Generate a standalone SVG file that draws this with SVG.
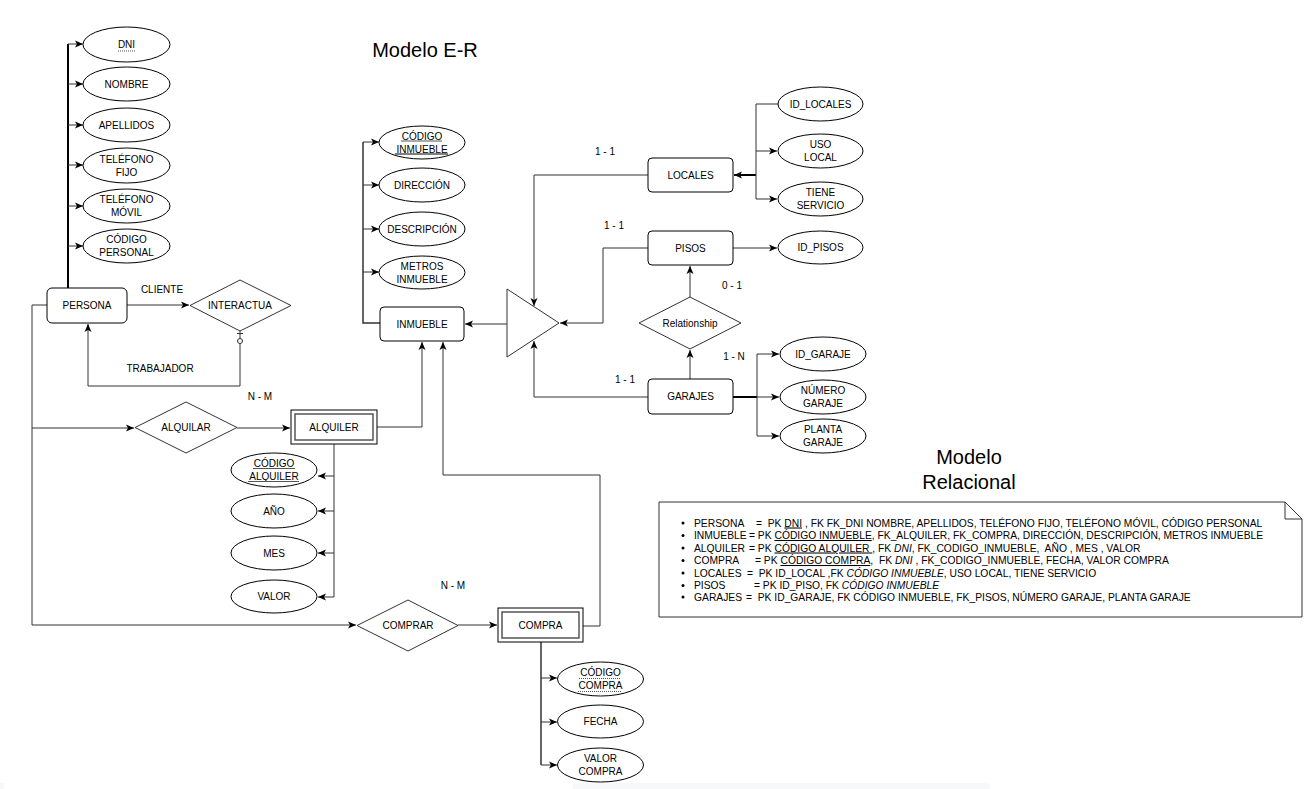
<svg xmlns="http://www.w3.org/2000/svg" width="1313" height="789" viewBox="0 0 1313 789">
<defs>
<marker id="arr" markerUnits="userSpaceOnUse" markerWidth="9" markerHeight="8" refX="8" refY="4" orient="auto">
<path d="M0,0.5 L8,4 L0,7.5 L2,4 Z" fill="#000"/>
</marker>
<style>
text{font-family:"Liberation Sans",Arial,sans-serif;font-size:10px;fill:#000;}
.c{text-anchor:middle;dominant-baseline:central;}
.t{font-size:20px;text-anchor:middle;}
.n{font-size:10.3px;}
.e{fill:#fff;stroke:#000;stroke-width:1;}
.r{fill:#fff;stroke:#000;stroke-width:1;}
.d{fill:#fff;stroke:#333;stroke-width:1;}
.l{fill:none;stroke:#333;stroke-width:1;}
.lt{fill:none;stroke:#000;stroke-width:2;}
.a{marker-end:url(#arr);}
.u{stroke:#555;stroke-width:1;}
.ud{stroke:#555;stroke-width:1;stroke-dasharray:1 1;}
</style>
</defs>
<rect width="1313" height="789" fill="#fff"/>
<rect x="573" y="783" width="417" height="6" fill="#f7f8f9"/>
<rect x="0" y="783" width="4" height="6" fill="#f7f8f9"/>

<text class="t" x="425" y="57">Modelo E-R</text>
<text class="t" x="969" y="464">Modelo</text>
<text class="t" x="969" y="489">Relacional</text>

<g id="connectors">
<path class="lt" d="M68,288 V44"/>
<path class="l a" d="M68,44 H83"/>
<path class="l a" d="M68,84 H83"/>
<path class="l a" d="M68,125 H83"/>
<path class="l a" d="M68,165 H83"/>
<path class="l a" d="M68,206 H83"/>
<path class="l a" d="M68,246 H83"/>
<path class="l a" d="M127,305 H189"/>
<path class="l a" d="M240,331 V386 H88 V324"/>
<path class="l" d="M237,333.5 H243"/>
<circle cx="240" cy="341" r="2.5" fill="#fff" stroke="#333"/>
<path class="l" d="M47,305 H32 V625"/>
<path class="l a" d="M32,428 H134"/>
<path class="l a" d="M237,428 H290"/>
<path class="l a" d="M32,625 H356"/>
<path class="l a" d="M458,625 H497"/>
<path class="l a" d="M377,427 H422 V342"/>
<path class="l a" d="M583,626 H600 V475 H443 V342"/>
<path class="l" d="M334,444 V597"/>
<path class="l a" d="M334,476 H318"/>
<path class="l a" d="M334,511 H318"/>
<path class="l a" d="M334,553 H318"/>
<path class="l a" d="M334,597 H318"/>
<path class="l" d="M541,642 V765" style="stroke-width:1.5"/>
<path class="l a" d="M541,678 H557"/>
<path class="l a" d="M541,722 H557"/>
<path class="l a" d="M541,765 H557"/>
<path class="l" d="M380,323 H363 V142" style="stroke-width:1.5"/>
<path class="l a" d="M363,142 H379"/>
<path class="l a" d="M363,185 H379"/>
<path class="l a" d="M363,229 H379"/>
<path class="l a" d="M363,272 H379"/>
<path class="l a" d="M507,324 H465"/>
<path class="l a" d="M648,175 H534 V306"/>
<path class="lt a" d="M756,175 H734"/>
<path class="l" d="M778,104 H756 V199"/>
<path class="l a" d="M756,151 H777"/>
<path class="l a" d="M756,199 H777"/>
<path class="l a" d="M648,248 H603 V323 H560"/>
<path class="l a" d="M733,248 H777"/>
<path class="l a" d="M690,297 V266"/>
<path class="l a" d="M648,397 H534 V341"/>
<path class="l a" d="M690,379 V350"/>
<path class="lt" d="M733,397 H757"/>
<path class="l" d="M757,354 V436"/>
<path class="l a" d="M757,354 H779"/>
<path class="l a" d="M757,397 H779"/>
<path class="l a" d="M757,436 H779"/>
</g>

<text class="c" x="162" y="289">CLIENTE</text>
<text class="c" x="160" y="368">TRABAJADOR</text>
<text class="c" x="260" y="396">N - M</text>
<text class="c" x="453" y="585">N - M</text>
<text class="c" x="605" y="151">1 - 1</text>
<text class="c" x="614" y="225">1 - 1</text>
<text class="c" x="732" y="285">0 - 1</text>
<text class="c" x="734" y="356">1 - N</text>
<text class="c" x="625" y="379">1 - 1</text>

<g id="persona"><rect class="r" x="47" y="288" width="80" height="35" rx="5"/><text class="c" x="87" y="305.5">PERSONA</text></g>
<g id="dni"><ellipse class="e" cx="126.5" cy="44.5" rx="43.5" ry="17.5"/><text class="c" x="126.5" y="44.5">DNI</text><line class="ud" x1="118" y1="51" x2="135" y2="51"/></g>
<g id="nombre"><ellipse class="e" cx="126.5" cy="84" rx="43.5" ry="17"/><text class="c" x="126.5" y="84">NOMBRE</text></g>
<g id="apellidos"><ellipse class="e" cx="126.5" cy="125" rx="43.5" ry="17"/><text class="c" x="126.5" y="125">APELLIDOS</text></g>
<g id="telfijo"><ellipse class="e" cx="126.5" cy="165.5" rx="43.5" ry="17.5"/><text class="c" x="126.5" y="159">TELÉFONO</text><text class="c" x="126.5" y="172">FIJO</text></g>
<g id="telmovil"><ellipse class="e" cx="126.5" cy="206" rx="43.5" ry="17"/><text class="c" x="126.5" y="199.5">TELÉFONO</text><text class="c" x="126.5" y="212.5">MÓVIL</text></g>
<g id="codpersonal"><ellipse class="e" cx="126.5" cy="246" rx="43.5" ry="17"/><text class="c" x="126.5" y="239.5">CÓDIGO</text><text class="c" x="126.5" y="252.5">PERSONAL</text></g>

<g id="interactua"><polygon class="d" points="240,280 291,305.5 240,331 190,305.5"/><text class="c" x="240" y="305.5">INTERACTUA</text></g>

<g id="inmueble"><rect class="r" x="380" y="307" width="84" height="34" rx="4"/><text class="c" x="422" y="324">INMUEBLE</text></g>
<g id="codinmueble"><ellipse class="e" cx="422" cy="142.5" rx="43" ry="16.5"/><text class="c" x="422" y="136">CÓDIGO</text><text class="c" x="422" y="149">INMUEBLE</text><line class="u" x1="401" y1="141" x2="442" y2="141"/><line class="u" x1="395" y1="154" x2="448" y2="154" style="stroke-width:1.5"/></g>
<g id="direccion"><ellipse class="e" cx="422" cy="185" rx="43" ry="17"/><text class="c" x="422" y="185">DIRECCIÓN</text></g>
<g id="descripcion"><ellipse class="e" cx="422" cy="229" rx="43" ry="17"/><text class="c" x="422" y="229">DESCRIPCIÓN</text></g>
<g id="metros"><ellipse class="e" cx="422" cy="272.5" rx="43" ry="16.5"/><text class="c" x="422" y="266">METROS</text><text class="c" x="422" y="279">INMUEBLE</text></g>

<g id="isa"><polygon class="d" points="507,289 559,323 507,357"/></g>

<g id="locales"><rect class="r" x="648" y="158" width="85" height="34" rx="4"/><text class="c" x="690.5" y="175">LOCALES</text></g>
<g id="idlocales"><ellipse class="e" cx="820.5" cy="104" rx="42.5" ry="17"/><text class="c" x="820.5" y="104">ID_LOCALES</text></g>
<g id="usolocal"><ellipse class="e" cx="820.5" cy="151" rx="42.5" ry="17"/><text class="c" x="820.5" y="144.5">USO</text><text class="c" x="820.5" y="157.5">LOCAL</text></g>
<g id="tieneservicio"><ellipse class="e" cx="820.5" cy="199" rx="42.5" ry="17"/><text class="c" x="820.5" y="192.5">TIENE</text><text class="c" x="820.5" y="205.5">SERVICIO</text></g>

<g id="pisos"><rect class="r" x="648" y="231" width="85" height="34" rx="4"/><text class="c" x="690.5" y="248">PISOS</text></g>
<g id="idpisos"><ellipse class="e" cx="820.5" cy="247.5" rx="42.5" ry="16.5"/><text class="c" x="820.5" y="247.5">ID_PISOS</text></g>

<g id="relationship"><polygon class="d" points="690,297 741,323 690,349 639,323"/><text class="c" x="690" y="323">Relationship</text></g>

<g id="garajes"><rect class="r" x="648" y="379" width="85" height="35" rx="4"/><text class="c" x="690.5" y="396.5">GARAJES</text></g>
<g id="idgaraje"><ellipse class="e" cx="823" cy="354" rx="43" ry="17"/><text class="c" x="823" y="354">ID_GARAJE</text></g>
<g id="numgaraje"><ellipse class="e" cx="823" cy="397" rx="43" ry="17"/><text class="c" x="823" y="390.5">NÚMERO</text><text class="c" x="823" y="403.5">GARAJE</text></g>
<g id="plantagaraje"><ellipse class="e" cx="823" cy="436" rx="43" ry="17"/><text class="c" x="823" y="429.5">PLANTA</text><text class="c" x="823" y="442.5">GARAJE</text></g>

<g id="alquilar"><polygon class="d" points="186,402 237,427.5 186,453 135,427.5"/><text class="c" x="186" y="427.5">ALQUILAR</text></g>
<g id="alquiler"><rect class="r" x="291" y="410" width="86" height="34"/><rect x="295" y="414" width="78" height="26" fill="none" stroke="#555" stroke-width="1.5"/><text class="c" x="334" y="427">ALQUILER</text></g>
<g id="codalquiler"><ellipse class="e" cx="274" cy="470" rx="43" ry="17"/><text class="c" x="274" y="463.5">CÓDIGO</text><text class="c" x="274" y="476.5">ALQUILER</text><line class="u" x1="253" y1="468.5" x2="295" y2="468.5"/><line class="u" x1="248" y1="481.5" x2="299" y2="481.5"/></g>
<g id="anio"><ellipse class="e" cx="274" cy="511" rx="43" ry="17"/><text class="c" x="274" y="511">AÑO</text></g>
<g id="mes"><ellipse class="e" cx="274" cy="553" rx="43" ry="17"/><text class="c" x="274" y="553">MES</text></g>
<g id="valor"><ellipse class="e" cx="274" cy="596.5" rx="43" ry="16.5"/><text class="c" x="274" y="596.5">VALOR</text></g>

<g id="comprar"><polygon class="d" points="408,600 458,625.5 408,651 357,625.5"/><text class="c" x="408" y="625.5">COMPRAR</text></g>
<g id="compra"><rect class="r" x="498" y="608" width="85" height="34"/><rect x="502" y="612" width="77" height="26" fill="none" stroke="#555" stroke-width="1.5"/><text class="c" x="540.5" y="625">COMPRA</text></g>
<g id="codcompra"><ellipse class="e" cx="600.5" cy="679" rx="43" ry="17"/><text class="c" x="600.5" y="672.5">CÓDIGO</text><text class="c" x="600.5" y="685.5">COMPRA</text><line class="ud" x1="579" y1="678.5" x2="621" y2="678.5"/><line class="ud" x1="578" y1="691.5" x2="622" y2="691.5"/></g>
<g id="fecha"><ellipse class="e" cx="600.5" cy="721.5" rx="43" ry="16.5"/><text class="c" x="600.5" y="721.5">FECHA</text></g>
<g id="valorcompra"><ellipse class="e" cx="600.5" cy="765" rx="43" ry="17"/><text class="c" x="600.5" y="758.5">VALOR</text><text class="c" x="600.5" y="771.5">COMPRA</text></g>

<g id="relacional">
<path d="M659,502 H1285 L1302,519 V617 H659 Z" fill="#fff" stroke="#333" stroke-width="1"/>
<path d="M1285,502 V519 H1302" fill="none" stroke="#333" stroke-width="1"/>
<g fill="#000">
<circle cx="683" cy="523" r="1.5"/><circle cx="683" cy="535.5" r="1.5"/><circle cx="683" cy="548" r="1.5"/><circle cx="683" cy="560.5" r="1.5"/><circle cx="683" cy="573" r="1.5"/><circle cx="683" cy="585.5" r="1.5"/><circle cx="683" cy="597" r="1.5"/>
</g>
<text class="n" y="526.5" xml:space="preserve"><tspan x="694">PERSONA</tspan><tspan x="756">=  PK </tspan><tspan text-decoration="underline">DNI</tspan><tspan> , FK FK_DNI NOMBRE, APELLIDOS, TELÉFONO FIJO, TELÉFONO MÓVIL, CÓDIGO PERSONAL</tspan></text>
<text class="n" y="539" xml:space="preserve"><tspan x="694">INMUEBLE</tspan><tspan x="749">= PK </tspan><tspan text-decoration="underline">CÓDIGO INMUEBLE</tspan><tspan>, FK_ALQUILER, FK_COMPRA, DIRECCIÓN, DESCRIPCIÓN, METROS INMUEBLE</tspan></text>
<text class="n" y="551.5" xml:space="preserve"><tspan x="694">ALQUILER</tspan><tspan x="749">= PK </tspan><tspan text-decoration="underline">CÓDIGO ALQUILER </tspan><tspan>, FK </tspan><tspan font-style="italic">DNI</tspan><tspan>, FK_CODIGO_INMUEBLE,  AÑO , MES , VALOR</tspan></text>
<text class="n" y="564" xml:space="preserve"><tspan x="694">COMPRA</tspan><tspan x="755">= PK </tspan><tspan text-decoration="underline">CÓDIGO COMPRA</tspan><tspan>,  FK </tspan><tspan font-style="italic">DNI</tspan><tspan> , FK_CODIGO_INMUEBLE, FECHA, VALOR COMPRA</tspan></text>
<text class="n" y="576.5" xml:space="preserve"><tspan x="694">LOCALES</tspan><tspan x="747">=  PK ID_LOCAL ,FK </tspan><tspan font-style="italic">CÓDIGO INMUEBLE</tspan><tspan>, USO LOCAL, TIENE SERVICIO</tspan></text>
<text class="n" y="589" xml:space="preserve"><tspan x="694">PISOS</tspan><tspan x="754">= PK ID_PISO, FK </tspan><tspan font-style="italic">CÓDIGO INMUEBLE</tspan></text>
<text class="n" y="600.5" xml:space="preserve"><tspan x="694">GARAJES</tspan><tspan x="746">=  PK ID_GARAJE, FK CÓDIGO INMUEBLE, FK_PISOS, NÚMERO GARAJE, PLANTA GARAJE</tspan></text>
</g>
</svg>
